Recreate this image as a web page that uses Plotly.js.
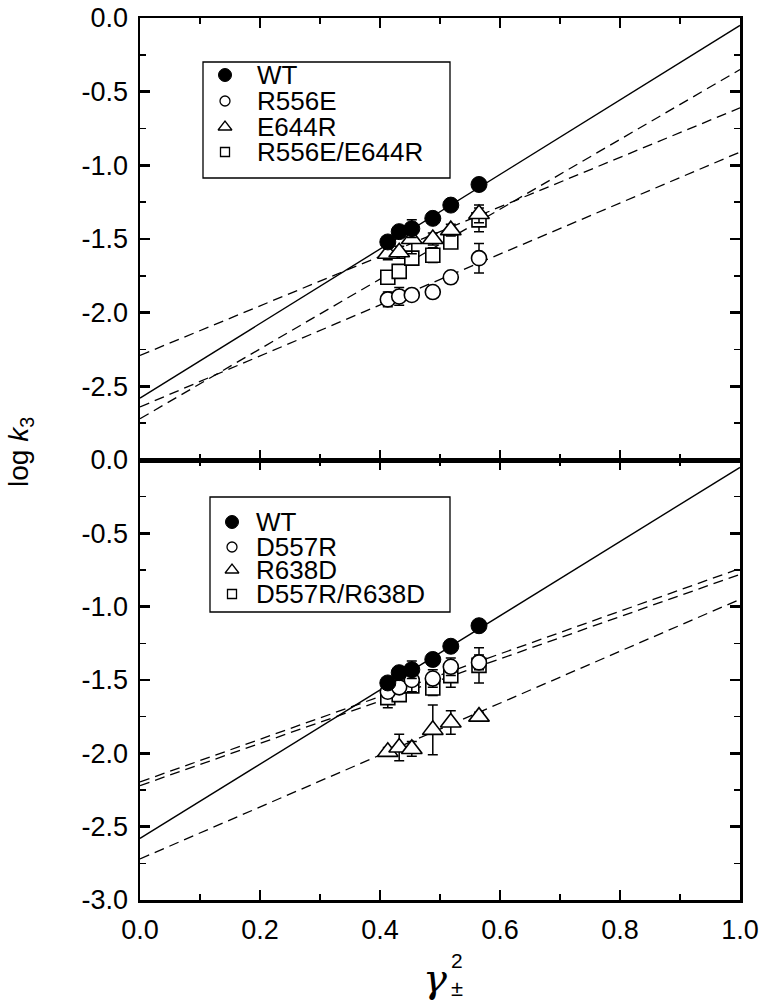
<!DOCTYPE html>
<html>
<head>
<meta charset="utf-8">
<script src="https://cdn.plot.ly/plotly-3.0.1.min.js"></script>
<style>html,body{margin:0;padding:0;background:#fff}#chart{width:760px;height:1004px}</style>
</head>
<body>
<div id="chart"></div>
<script>
// ---------------- data ----------------
var gamma2 = [0.413, 0.432, 0.453, 0.488, 0.518, 0.565];

var wt      = [-1.52, -1.45, -1.43, -1.36, -1.27, -1.13];
var wtErr   = [0.03, 0.04, 0.06, 0.03, 0.03, 0.03];

// top panel
var r556e    = [-1.91, -1.89, -1.88, -1.86, -1.76, -1.63];
var r556eErr = [0.05, 0.06, 0.03, 0.03, 0.03, 0.10];
var e644r    = [-1.60, -1.59, -1.50, -1.50, -1.44, -1.33];
var e644rErr = [0.04, 0.04, 0.10, 0.04, 0.04, 0.06];
var dm1      = [-1.76, -1.72, -1.63, -1.61, -1.52, -1.37];
var dm1Err   = [0.03, 0.03, 0.03, 0.05, 0.03, 0.08];

// bottom panel
var d557r    = [-1.58, -1.55, -1.50, -1.49, -1.41, -1.38];
var d557rErr = [0.04, 0.04, 0.08, 0.06, 0.06, 0.05];
var r638d    = [-1.99, -1.96, -1.97, -1.84, -1.79, -1.75];
var r638dErr = [0.03, 0.09, 0.05, 0.17, 0.08, 0.03];
var dm2      = [-1.62, -1.60, -1.54, -1.555, -1.47, -1.40];
var dm2Err   = [0.07, 0.04, 0.04, 0.05, 0.08, 0.12];

// linear fits: [intercept, slope]
var fitWT    = [-2.58, 2.53];
var fitR556E = [-2.64, 1.73];
var fitE644R = [-2.29, 1.68];
var fitDM1   = [-2.72, 2.37];
var fitD557R = [-2.195, 1.455];
var fitR638D = [-2.72, 1.77];
var fitDM2   = [-2.22, 1.44];

var fitX = [0, 1];

var topNames = ["WT", "R556E", "E644R", "R556E/E644R"];
var botNames = ["WT", "D557R", "R638D", "D557R/R638D"];

var xTickVals = [0, 0.2, 0.4, 0.6, 0.8, 1.0];
var xTickText = ["0.0", "0.2", "0.4", "0.6", "0.8", "1.0"];
var yTickVals = [0, -0.5, -1.0, -1.5, -2.0, -2.5, -3.0];
var yTickText = ["0.0", "-0.5", "-1.0", "-1.5", "-2.0", "-2.5", "-3.0"];

// ---------------- styles ----------------
var FONT = "Liberation Sans, Arial, sans-serif";
var SERIF = "DejaVu Serif, serif";
var symFilled = {symbol: "circle", size: 16, color: "black", line: {color: "black", width: 1}};
function openSym(sym, size) {
  return {symbol: sym, size: size, color: "white", line: {color: "black", width: 1.6}};
}
var symCircle = openSym("circle", 15);
var symTri = openSym("triangle-up", 18);
var symSq = openSym("square", 14);

function fitLine(fit, xa, ya, dashed) {
  return {
    x: fitX, y: fitX.map(function (x) { return fit[0] + fit[1] * x; }),
    xaxis: xa, yaxis: ya, mode: "lines", showlegend: false, hoverinfo: "skip",
    line: {color: "black", width: dashed ? 1.3 : 1.4, dash: dashed ? "10px,6px" : "solid"}
  };
}
function pts(y, err, marker, xa, ya) {
  return {
    x: gamma2, y: y, xaxis: xa, yaxis: ya, mode: "markers", showlegend: false,
    marker: marker,
    error_y: {type: "data", array: err, visible: true, color: "black", thickness: 1.5, width: 5}
  };
}

var traces = [
  fitLine(fitWT, "x2", "y2", false),
  fitLine(fitR556E, "x2", "y2", true),
  fitLine(fitE644R, "x2", "y2", true),
  fitLine(fitDM1, "x2", "y2", true),
  fitLine(fitWT, "x", "y", false),
  fitLine(fitD557R, "x", "y", true),
  fitLine(fitR638D, "x", "y", true),
  fitLine(fitDM2, "x", "y", true),
  pts(r556e, r556eErr, symCircle, "x2", "y2"),
  pts(dm1, dm1Err, symSq, "x2", "y2"),
  pts(e644r, e644rErr, symTri, "x2", "y2"),
  pts(wt, wtErr, symFilled, "x2", "y2"),
  pts(r638d, r638dErr, symTri, "x", "y"),
  pts(dm2, dm2Err, symSq, "x", "y"),
  pts(d557r, d557rErr, symCircle, "x", "y"),
  pts(wt, wtErr, symFilled, "x", "y")
];

// ---------------- layout helpers (pixel -> coords) ----------------
var L = 140, R = 740, T = 18, B = 900, MID = 460;
function pxX(px) { return (px - L) / (R - L); }
function pxY(py) { return (B - py) / (B - T); }
function topDataY(py) { return -3 * (py - T) / (MID - T); }
function botDataY(py) { return -3 * (py - MID) / (B - MID); }

var legendMarkers = [
  {symbol: "circle", size: 13, color: "black", line: {color: "black", width: 1}},
  {symbol: "circle", size: 10, color: "white", line: {color: "black", width: 1.3}},
  {symbol: "triangle-up", size: 12, color: "white", line: {color: "black", width: 1.3}},
  {symbol: "square", size: 9, color: "white", line: {color: "black", width: 1.3}}
];

var annotations = [];
var shapes = [];

function buildLegend(names, box, markerX, textX, rows, xa, ya, toY) {
  shapes.push({type: "rect", xref: "paper", yref: "paper",
    x0: pxX(box[0]), x1: pxX(box[1]), y0: pxY(box[2]), y1: pxY(box[3]),
    line: {color: "black", width: 1.3}, fillcolor: "rgba(0,0,0,0)"});
  for (var i = 0; i < names.length; i++) {
    traces.push({x: [pxX(markerX)], y: [toY(rows[i])], xaxis: xa, yaxis: ya,
      mode: "markers", marker: legendMarkers[i], showlegend: false, hoverinfo: "skip", cliponaxis: false});
    annotations.push({xref: "paper", yref: "paper", x: pxX(textX), y: pxY(rows[i]),
      xanchor: "left", yanchor: "middle", showarrow: false, text: names[i],
      font: {family: FONT, size: 26, color: "black"}});
  }
}
buildLegend(topNames, [203, 450, 62, 178], 225, 255, [75, 101, 127, 152], "x2", "y2", topDataY);
buildLegend(botNames, [210, 450, 497, 612], 232, 254, [522, 547, 570, 594], "x", "y", botDataY);

// axis titles
annotations.push({xref: "paper", yref: "paper", x: pxX(20), y: pxY(452),
  xanchor: "center", yanchor: "middle", showarrow: false, textangle: -90,
  text: "log <i>k</i><sub>3</sub>", font: {family: FONT, size: 28, color: "black"}});
annotations.push({xref: "paper", yref: "paper", x: pxX(435), y: pxY(978),
  xanchor: "center", yanchor: "middle", showarrow: false,
  text: "<i>γ</i>", font: {family: SERIF, size: 40, color: "black"}});
annotations.push({xref: "paper", yref: "paper", x: pxX(457), y: pxY(960),
  xanchor: "center", yanchor: "middle", showarrow: false,
  text: "2", font: {family: FONT, size: 21, color: "black"}});
annotations.push({xref: "paper", yref: "paper", x: pxX(457), y: pxY(989),
  xanchor: "center", yanchor: "middle", showarrow: false,
  text: "±", font: {family: FONT, size: 22, color: "black"}});

var split = (B - MID) / (B - T);

function xAxis(anchor, showLabels) {
  return {
    domain: [0, 1], anchor: anchor, range: [0, 1],
    tickmode: "array", tickvals: xTickVals, ticktext: xTickText,
    showticklabels: showLabels, ticks: "inside", ticklen: 10, tickwidth: 2.5, tickcolor: "black",
    minor: {tickmode: "linear", tick0: 0, dtick: 0.1, ticks: "inside", ticklen: 6, tickwidth: 1.5, tickcolor: "black"},
    showline: true, linecolor: "black", linewidth: 2.5, mirror: "ticks",
    showgrid: false, zeroline: false,
    tickfont: {family: FONT, size: 27, color: "black"}, ticklabelstandoff: 4
  };
}
function yAxis(anchor, dom, n) {
  return {
    domain: dom, anchor: anchor, range: [-3, 0],
    tickmode: "array", tickvals: yTickVals.slice(0, n), ticktext: yTickText.slice(0, n),
    ticks: "inside", ticklen: 10, tickwidth: 2.5, tickcolor: "black",
    minor: {tickmode: "linear", tick0: 0, dtick: 0.25, ticks: "inside", ticklen: 6, tickwidth: 1.5, tickcolor: "black"},
    showline: true, linecolor: "black", linewidth: 2.5, mirror: "ticks",
    showgrid: false, zeroline: false,
    tickfont: {family: FONT, size: 27, color: "black"}, ticklabelstandoff: 4
  };
}

var layout = {
  width: 760, height: 1004,
  margin: {l: L, r: 760 - R, t: T, b: 1004 - B},
  paper_bgcolor: "white", plot_bgcolor: "white",
  showlegend: false,
  font: {family: FONT, color: "black"},
  xaxis: xAxis("y", true),
  yaxis: yAxis("x", [0, split], 7),
  xaxis2: xAxis("y2", false),
  yaxis2: yAxis("x2", [split, 1], 6),
  annotations: annotations,
  shapes: shapes
};
layout.xaxis2.matches = "x";

Plotly.newPlot("chart", traces, layout, {staticPlot: true, displayModeBar: false});
</script>
</body>
</html>
